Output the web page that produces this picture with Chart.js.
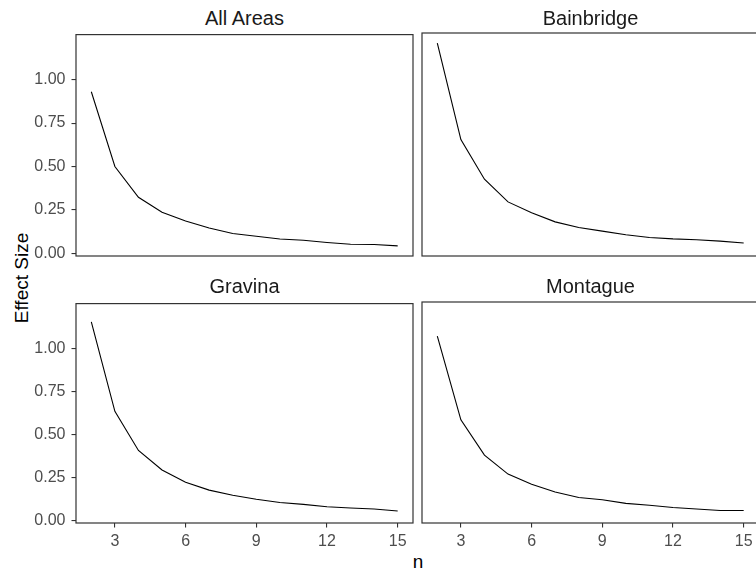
<!DOCTYPE html>
<html lang="en">
<head>
    <meta charset="UTF-8">
    <title>Effect Size by n</title>
    <style>
        html, body { margin: 0; padding: 0; background: #fff; overflow: hidden; }
        body { width: 756px; height: 571px; position: relative; font-family: "Liberation Sans", Arial, sans-serif; }
        .panel { position: absolute; }
        .strip { position: absolute; text-align: center; font-size: 20px; line-height: 20px; color: #1a1a1a; }
        .axis-title { position: absolute; font-size: 19px; line-height: 19px; color: #000; white-space: nowrap; }
    </style>
</head>
<body>
    <div class="axis-title" id="ylab" style="left:20.5px;top:277.5px;transform:translate(-50%,-50%) rotate(-90deg);">Effect Size</div>
    <div class="axis-title" id="xlab" style="left:418px;top:552px;transform:translateX(-50%);">n</div>

    <script src="https://cdn.jsdelivr.net/npm/chart.js@4.4.1/dist/chart.umd.min.js"></script>
    <script>
        // sample size n (x values)
        const nValues = [2, 3, 4, 5, 6, 7, 8, 9, 10, 11, 12, 13, 14, 15];

        // effect size per area
        const allAreas   = [0.930, 0.500, 0.323, 0.237, 0.186, 0.146, 0.114, 0.099, 0.083, 0.076, 0.063, 0.053, 0.051, 0.043];
        const bainbridge = [1.201, 0.650, 0.424, 0.294, 0.232, 0.180, 0.148, 0.127, 0.106, 0.091, 0.083, 0.078, 0.070, 0.059];
        const gravina    = [1.153, 0.633, 0.406, 0.293, 0.221, 0.176, 0.146, 0.123, 0.104, 0.093, 0.079, 0.072, 0.066, 0.055];
        const montague   = [1.062, 0.580, 0.376, 0.267, 0.208, 0.164, 0.132, 0.119, 0.098, 0.087, 0.074, 0.066, 0.057, 0.057];

        // tick labels
        const xTicks = [3, 6, 9, 12, 15];
        const yTicks = [0, 0.25, 0.5, 0.75, 1.0];

        // shared scales (facet_wrap with fixed scales)
        const xMin = 1.35, xMax = 15.65;
        const yMin = -0.015, yMax = 1.259;

        // frame around each panel
        const framePlugin = {
            id: 'frame',
            afterDraw(chart) {
                const a = chart.chartArea;
                const ctx = chart.ctx;
                ctx.save();
                ctx.strokeStyle = '#333333';
                ctx.lineWidth = 1.2;
                ctx.strokeRect(a.left, a.top, a.right - a.left, a.bottom - a.top);
                ctx.restore();
            }
        };

        const tickFont = { family: '"Liberation Sans", Arial, sans-serif', size: 16 };
        // room kept around each plot area inside its canvas
        const LEFT = 60, BOTTOM = 40, TOP = 14, RIGHT = 14;

        function makePanel(title, values, box, titleTop, showX, showY) {
            // strip title
            const strip = document.createElement('div');
            strip.className = 'strip';
            strip.style.left = box.l + 'px';
            strip.style.width = (box.r - box.l) + 'px';
            strip.style.top = titleTop + 'px';
            strip.textContent = title;
            document.body.appendChild(strip);

            const wrap = document.createElement('div');
            wrap.className = 'panel';
            wrap.style.left = (box.l - LEFT) + 'px';
            wrap.style.top = (box.t - TOP) + 'px';
            wrap.style.width = (box.r - box.l + LEFT + RIGHT) + 'px';
            wrap.style.height = (box.b - box.t + TOP + BOTTOM) + 'px';
            const canvas = document.createElement('canvas');
            wrap.appendChild(canvas);
            document.body.appendChild(wrap);

            new Chart(canvas.getContext('2d'), {
                type: 'line',
                data: {
                    datasets: [{
                        data: nValues.map((n, i) => ({ x: n, y: values[i] })),
                        borderColor: '#000000',
                        borderWidth: 1.1,
                        pointRadius: 0,
                        tension: 0,
                        fill: false
                    }]
                },
                options: {
                    responsive: true,
                    maintainAspectRatio: false,
                    animation: false,
                    layout: { padding: { top: TOP, right: RIGHT, left: 0, bottom: 0 } },
                    plugins: { legend: { display: false }, tooltip: { enabled: false }, title: { display: false } },
                    scales: {
                        x: {
                            type: 'linear',
                            min: xMin, max: xMax,
                            afterBuildTicks: s => { s.ticks = xTicks.map(v => ({ value: v })); },
                            afterFit: s => { s.height = BOTTOM; },
                            border: { display: false },
                            grid: { display: showX, drawOnChartArea: false, drawTicks: true, tickLength: 4.5, color: '#333333', lineWidth: 1.1 },
                            ticks: { display: showX, color: '#4d4d4d', font: tickFont, padding: 4, maxRotation: 0, autoSkip: false, callback: v => String(v) }
                        },
                        y: {
                            type: 'linear',
                            min: yMin, max: yMax,
                            afterBuildTicks: s => { s.ticks = yTicks.map(v => ({ value: v })); },
                            afterFit: s => { s.width = LEFT; },
                            border: { display: false },
                            grid: { display: showY, drawOnChartArea: false, drawTicks: true, tickLength: 4.5, color: '#333333', lineWidth: 1.1 },
                            ticks: { display: showY, color: '#4d4d4d', font: tickFont, padding: 6, autoSkip: false, callback: v => v.toFixed(2) }
                        }
                    }
                },
                plugins: [framePlugin]
            });
        }

        makePanel('All Areas',  allAreas,   { l: 76,  t: 33,  r: 413, b: 256 }, 8,   false, true);
        makePanel('Bainbridge', bainbridge, { l: 422, t: 33,  r: 759, b: 256 }, 8,   false, false);
        makePanel('Gravina',    gravina,    { l: 76,  t: 302, r: 413, b: 523 }, 276, true,  true);
        makePanel('Montague',   montague,   { l: 422, t: 302, r: 759, b: 523 }, 276, true,  false);
    </script>
</body>
</html>
